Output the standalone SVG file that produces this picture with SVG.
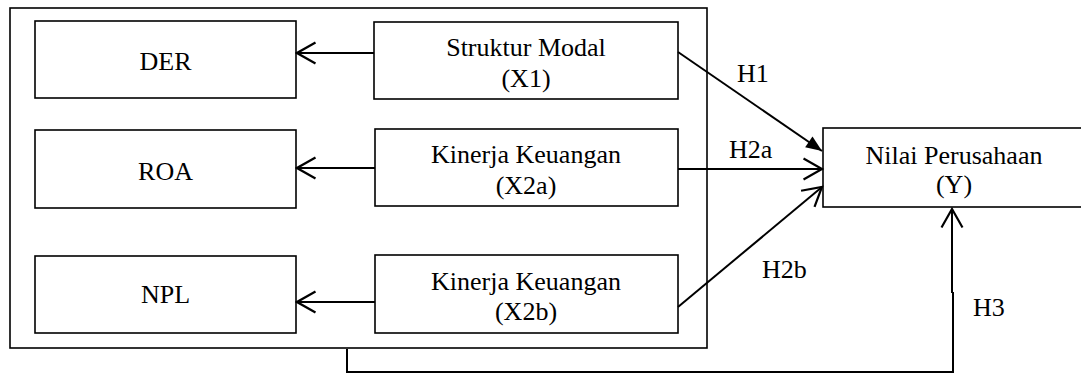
<svg xmlns="http://www.w3.org/2000/svg" width="1081" height="374" viewBox="0 0 1081 374">
  <style>
    .box { fill: #ffffff; stroke: #000000; stroke-width: 1.6; }
    .frame { fill: none; stroke: #000000; stroke-width: 1.6; }
    .lbl { font-family: "Liberation Serif", "Times New Roman", serif; font-size: 26px; fill: #000000; text-anchor: middle; }
    .hyp { font-family: "Liberation Serif", "Times New Roman", serif; font-size: 26px; fill: #000000; }
    .wire { fill: none; stroke: #000000; stroke-width: 2; }
  </style>
  <defs>
    <!-- open V head, tip at refX -->
    <marker id="open" markerWidth="22" markerHeight="26" refX="19.5" refY="12" orient="auto" markerUnits="userSpaceOnUse">
      <path d="M1,1.5 L19.5,12 L1,22.5" fill="none" stroke="#000000" stroke-width="2.2"/>
    </marker>
    <!-- filled triangular head -->
    <marker id="solid" markerWidth="20" markerHeight="16" refX="18" refY="8" orient="auto" markerUnits="userSpaceOnUse">
      <path d="M2,1.5 L18,8 L2,14.5 Z" fill="#000000"/>
    </marker>
  </defs>

  <rect id="frame" class="frame" x="10" y="8" width="697" height="340"/>

  <g id="der">
    <rect class="box" x="35" y="21" width="261" height="77"/>
    <text class="lbl" x="165.5" y="69.5">DER</text>
  </g>
  <g id="roa">
    <rect class="box" x="35" y="130" width="261" height="78"/>
    <text class="lbl" x="165.5" y="180">ROA</text>
  </g>
  <g id="npl">
    <rect class="box" x="35" y="256" width="261" height="77"/>
    <text class="lbl" x="165.5" y="303">NPL</text>
  </g>

  <g id="x1">
    <rect class="box" x="374" y="22" width="304" height="77"/>
    <text class="lbl" x="526" y="55.5">Struktur Modal</text>
    <text class="lbl" x="526" y="87">(X1)</text>
  </g>
  <g id="x2a">
    <rect class="box" x="375" y="129" width="303" height="77"/>
    <text class="lbl" x="526" y="162.5">Kinerja Keuangan</text>
    <text class="lbl" x="526" y="194">(X2a)</text>
  </g>
  <g id="x2b">
    <rect class="box" x="375" y="255" width="303" height="78"/>
    <text class="lbl" x="526" y="290">Kinerja Keuangan</text>
    <text class="lbl" x="526" y="320">(X2b)</text>
  </g>

  <g id="y">
    <rect class="box" x="823" y="128" width="270" height="79"/>
    <text class="lbl" x="954" y="164">Nilai Perusahaan</text>
    <text class="lbl" x="954" y="193">(Y)</text>
  </g>

  <g id="connectors">
    <line class="wire" x1="374" y1="53" x2="297" y2="53" marker-end="url(#open)"/>
    <line class="wire" x1="375" y1="168" x2="297" y2="168" marker-end="url(#open)"/>
    <line class="wire" x1="375" y1="302" x2="297" y2="302" marker-end="url(#open)"/>

    <line class="wire" x1="678" y1="52" x2="822" y2="151" marker-end="url(#solid)"/>
    <line class="wire" x1="678" y1="169" x2="822" y2="169" marker-end="url(#open)"/>
    <line class="wire" x1="678" y1="307" x2="822" y2="187" marker-end="url(#open)"/>

    <polyline class="wire" points="347,349 347,372 953,372 953,292"/>
    <line class="wire" x1="952" y1="293" x2="952" y2="209" marker-end="url(#open)"/>

    <text class="hyp" x="737" y="82">H1</text>
    <text class="hyp" x="729" y="158">H2a</text>
    <text class="hyp" x="762" y="278">H2b</text>
    <text class="hyp" x="973" y="316">H3</text>
  </g>
</svg>
